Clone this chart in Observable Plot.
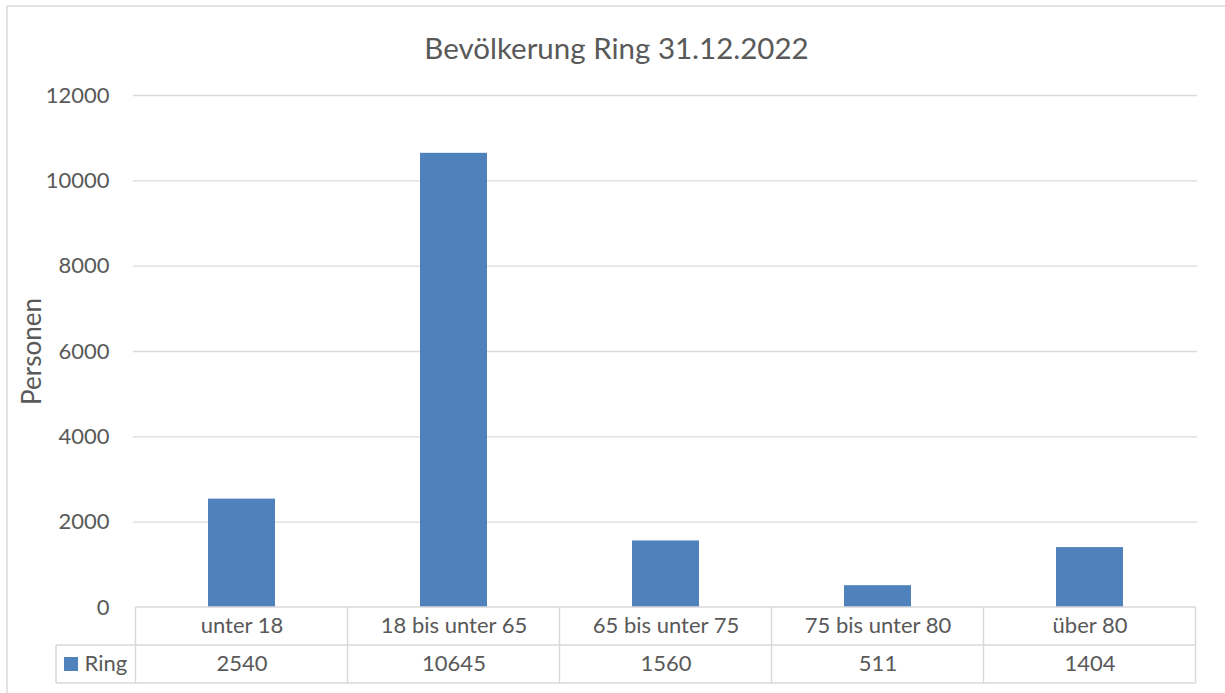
<!DOCTYPE html>
<html>
<head>
<meta charset="utf-8">
<script src="https://cdn.jsdelivr.net/npm/d3@7"></script>
<script src="https://cdn.jsdelivr.net/npm/@observablehq/plot@0.6"></script>
<style>
  html, body { margin: 0; padding: 0; background: #fff; }
  svg { display: block; }
</style>
</head>
<body>
<div id="chart"></div>
<script>
const title = "Bevölkerung Ring 31.12.2022";
const yLabel = "Personen";
const seriesName = "Ring";
const categories = ["unter 18", "18 bis unter 65", "65 bis unter 75", "75 bis unter 80", "über 80"];
const values = [2540, 10645, 1560, 511, 1404];
const yTicks = [0, 2000, 4000, 6000, 8000, 10000, 12000];

const data = categories.map((c, i) => ({cat: c, value: values[i]}));
const textColor = "#595959";
const gridColor = "#d9d9d9";
const barColor = "#4f81bd";

const plot = Plot.plot({
  width: 1225,
  height: 693,
  marginTop: 95,
  marginBottom: 86,
  marginLeft: 133,
  marginRight: 28,
  style: {fontFamily: "Lato", color: textColor, background: "white", overflow: "visible"},
  x: {domain: categories, paddingInner: 0.685, paddingOuter: 0.3425, axis: null},
  y: {domain: [0, 12000], axis: null},
  marks: [
    Plot.gridY(yTicks.filter(d => d > 0), {stroke: gridColor, strokeOpacity: 1, strokeWidth: 1.3}),
    Plot.axisY({ticks: yTicks, tickFormat: d => String(d), tickSize: 0, tickPadding: 24, fontSize: 22, fill: textColor, label: null}),
    Plot.barY(data, {x: "cat", y: "value", fill: barColor}),
    Plot.text([title], {frameAnchor: "top", lineAnchor: "middle", dx: -49, dy: -46, fontSize: 29.5, fill: textColor}),
    Plot.text([yLabel], {frameAnchor: "left", textAnchor: "middle", lineAnchor: "middle", dx: -101, rotate: -90, fontSize: 26, fill: textColor}),
    Plot.text(data, {x: "cat", text: "cat", frameAnchor: "bottom", lineAnchor: "middle", dy: 18, fontSize: 22, fill: textColor}),
    Plot.text(data, {x: "cat", text: d => String(d.value), frameAnchor: "bottom", lineAnchor: "middle", dy: 56, fontSize: 22, fill: textColor}),
    Plot.text([seriesName], {frameAnchor: "bottom-left", lineAnchor: "middle", textAnchor: "start", dx: -49, dy: 56, fontSize: 22, fill: textColor})
  ]
});

document.getElementById("chart").appendChild(plot);

// data table grid and legend key, positioned from the Plot x scale
const xs = plot.scale("x");
const step = xs.step;
const centers = categories.map(c => xs.apply(c) + xs.bandwidth / 2);
const x0 = centers[0] - step / 2;
const x1 = centers[centers.length - 1] + step / 2;
const yBase = 607, yMid = 645, yBot = 683, xKey = 56;
const svg = d3.select(plot);
const g = svg.append("g").attr("stroke", gridColor).attr("stroke-width", 1.5).attr("fill", "none");
g.append("line").attr("x1", x0).attr("x2", x1).attr("y1", yBase).attr("y2", yBase);
g.append("line").attr("x1", xKey).attr("x2", x1).attr("y1", yMid).attr("y2", yMid);
g.append("line").attr("x1", xKey).attr("x2", x1).attr("y1", yBot).attr("y2", yBot);
g.append("line").attr("x1", xKey).attr("x2", xKey).attr("y1", yMid).attr("y2", yBot);
[x0, ...centers.map(c => c + step / 2)].forEach(x => {
  g.append("line").attr("x1", x).attr("x2", x).attr("y1", yBase).attr("y2", yBot);
});
// outer chart border
g.append("line").attr("x1", 7).attr("x2", 7).attr("y1", 6).attr("y2", 693);
g.append("line").attr("x1", 7).attr("x2", 1225).attr("y1", 6).attr("y2", 6);
// legend key
svg.append("rect").attr("x", 64).attr("y", 657).attr("width", 14).attr("height", 14).attr("fill", barColor);
</script>
</body>
</html>
